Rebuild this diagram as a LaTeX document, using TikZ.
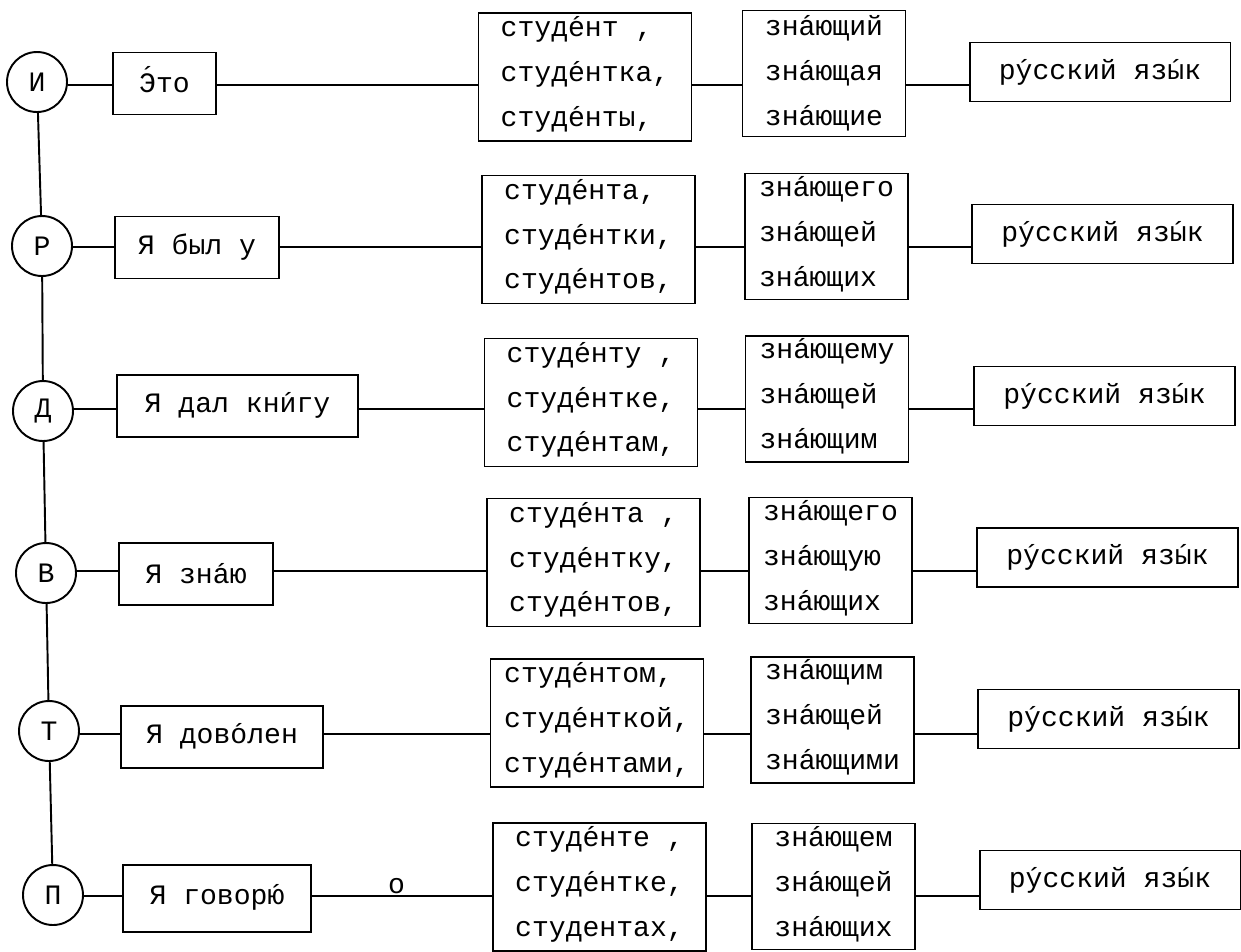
\documentclass[tikz,border=0pt]{standalone}
\usepackage{fontspec}
\newfontfamily\tw{Liberation Mono}
% stress marks
\newcommand\ud[1]{\ooalign{#1\cr\hidewidth´\hidewidth\cr}}
\newcommand\udc[1]{\ooalign{#1\cr\hidewidth\raisebox{0.22em}{´}\hidewidth\cr}}

\begin{document}
\begin{tikzpicture}[x=0.02cm, y=-0.02cm, line width=1.1pt,
    every node/.style={font=\tw\fontsize{16}{25.5}\selectfont},
    case/.style={draw, circle, minimum size=1.2cm, inner sep=0pt},
    verb/.style={draw, rectangle, minimum height=1.24cm, inner sep=0pt},
    noun/.style={draw, rectangle, align=left, minimum width=4.26cm, minimum height=2.56cm, inner sep=0pt},
    part/.style={draw, rectangle, align=left, minimum width=3.26cm, minimum height=2.52cm, inner sep=0pt},
    lang/.style={draw, rectangle, minimum width=5.22cm, minimum height=1.18cm, inner sep=0pt}]

    \useasboundingbox (0,0) rectangle (1241,951);

    % Cases
    \node[case] (c1) at (37,82)  {И};
    \node[case] (c2) at (42,246) {Р};
    \node[case] (c3) at (43,411) {Д};
    \node[case] (c4) at (46,573) {В};
    \node[case] (c5) at (49,731) {Т};
    \node[case] (c6) at (53,895) {П};

    % Verb boxes
    \node[verb, minimum width=2.06cm] (v1) at (164.5,83.5) {\udc{Э}то};
    \node[verb, minimum width=3.28cm] (v2) at (197,247.5)  {Я был у};
    \node[verb, minimum width=4.82cm] (v3) at (237.5,406)  {Я дал кн\ud{и}гу};
    \node[verb, minimum width=3.08cm] (v4) at (196,574)    {Я зн\ud{а}ю};
    \node[verb, minimum width=4.04cm] (v5) at (222,737)    {Я дов\ud{о}лен};
    \node[verb, minimum width=3.76cm, minimum height=1.34cm] (v6) at (217,898.5) {Я говор\ud{ю}};

    % Nouns
    \node[noun] (n1) at (585,77)      {студ\ud{е}нт ,\\студ\ud{е}нтка,\\студ\ud{е}нты,};
    \node[noun] (n2) at (588.5,239.5) {студ\ud{е}нта,\\студ\ud{е}нтки,\\студ\ud{е}нтов,};
    \node[noun] (n3) at (591,402.5)   {студ\ud{е}нту ,\\студ\ud{е}нтке,\\студ\ud{е}нтам,};
    \node[noun] (n4) at (593.5,562.5) {студ\ud{е}нта ,\\студ\ud{е}нтку,\\студ\ud{е}нтов,};
    \node[noun] (n5) at (597,723)     {студ\ud{е}нтом,\\студ\ud{е}нткой,\\студ\ud{е}нтами,};
    \node[noun] (n6) at (599.5,887)   {студ\ud{е}нте ,\\студ\ud{е}нтке,\\студентах,};

    % Participles
    \node[part] (p1) at (824,73.5)    {зн\ud{а}ющий\\зн\ud{а}ющая\\зн\ud{а}ющие};
    \node[part] (p2) at (826.5,236.5) {зн\ud{а}ющего\\зн\ud{а}ющей\\зн\ud{а}ющих};
    \node[part] (p3) at (827,399)     {зн\ud{а}ющему\\зн\ud{а}ющей\\зн\ud{а}ющим};
    \node[part] (p4) at (830.5,560.5) {зн\ud{а}ющего\\зн\ud{а}ющую\\зн\ud{а}ющих};
    \node[part] (p5) at (832.5,720)   {зн\ud{а}ющим\\зн\ud{а}ющей\\зн\ud{а}ющими};
    \node[part] (p6) at (833.5,886.5) {зн\ud{а}ющем\\зн\ud{а}ющей\\зн\ud{а}ющих};

    % Object
    \node[lang] (l1) at (1100,72)      {р\ud{у}сский~яз\ud{ы}к};
    \node[lang] (l2) at (1102.5,234)   {р\ud{у}сский~яз\ud{ы}к};
    \node[lang] (l3) at (1104.5,396)   {р\ud{у}сский~яз\ud{ы}к};
    \node[lang] (l4) at (1107.5,557.5) {р\ud{у}сский~яз\ud{ы}к};
    \node[lang] (l5) at (1108.5,719)   {р\ud{у}сский~яз\ud{ы}к};
    \node[lang] (l6) at (1110,880)     {р\ud{у}сский~яз\ud{ы}к};

    % row lines
    \coordinate (r1) at (0,85);
    \coordinate (r2) at (0,247);
    \coordinate (r3) at (0,409);
    \coordinate (r4) at (0,571);
    \coordinate (r5) at (0,734);
    \coordinate (r6) at (0,896);

    % Vertical line through the cases
    \foreach \a/\b in {c1/c2,c2/c3,c3/c4,c4/c5,c5/c6}
        \draw (\a) -- (\b);

    % Horizontal lines
    \foreach \i in {1,...,6} {
        \draw (c\i.east |- r\i) -- (v\i.west |- r\i);
        \draw (n\i.east |- r\i) -- (p\i.west |- r\i);
        \draw (p\i.east |- r\i) -- (l\i.west |- r\i);
    }
    \foreach \i in {1,...,5}
        \draw (v\i.east |- r\i) -- (n\i.west |- r\i);
    \draw (v6.east |- r6) -- node[pos=0.47, above, inner sep=1pt] (prep) {о} (n6.west |- r6);

\end{tikzpicture}
\end{document}
